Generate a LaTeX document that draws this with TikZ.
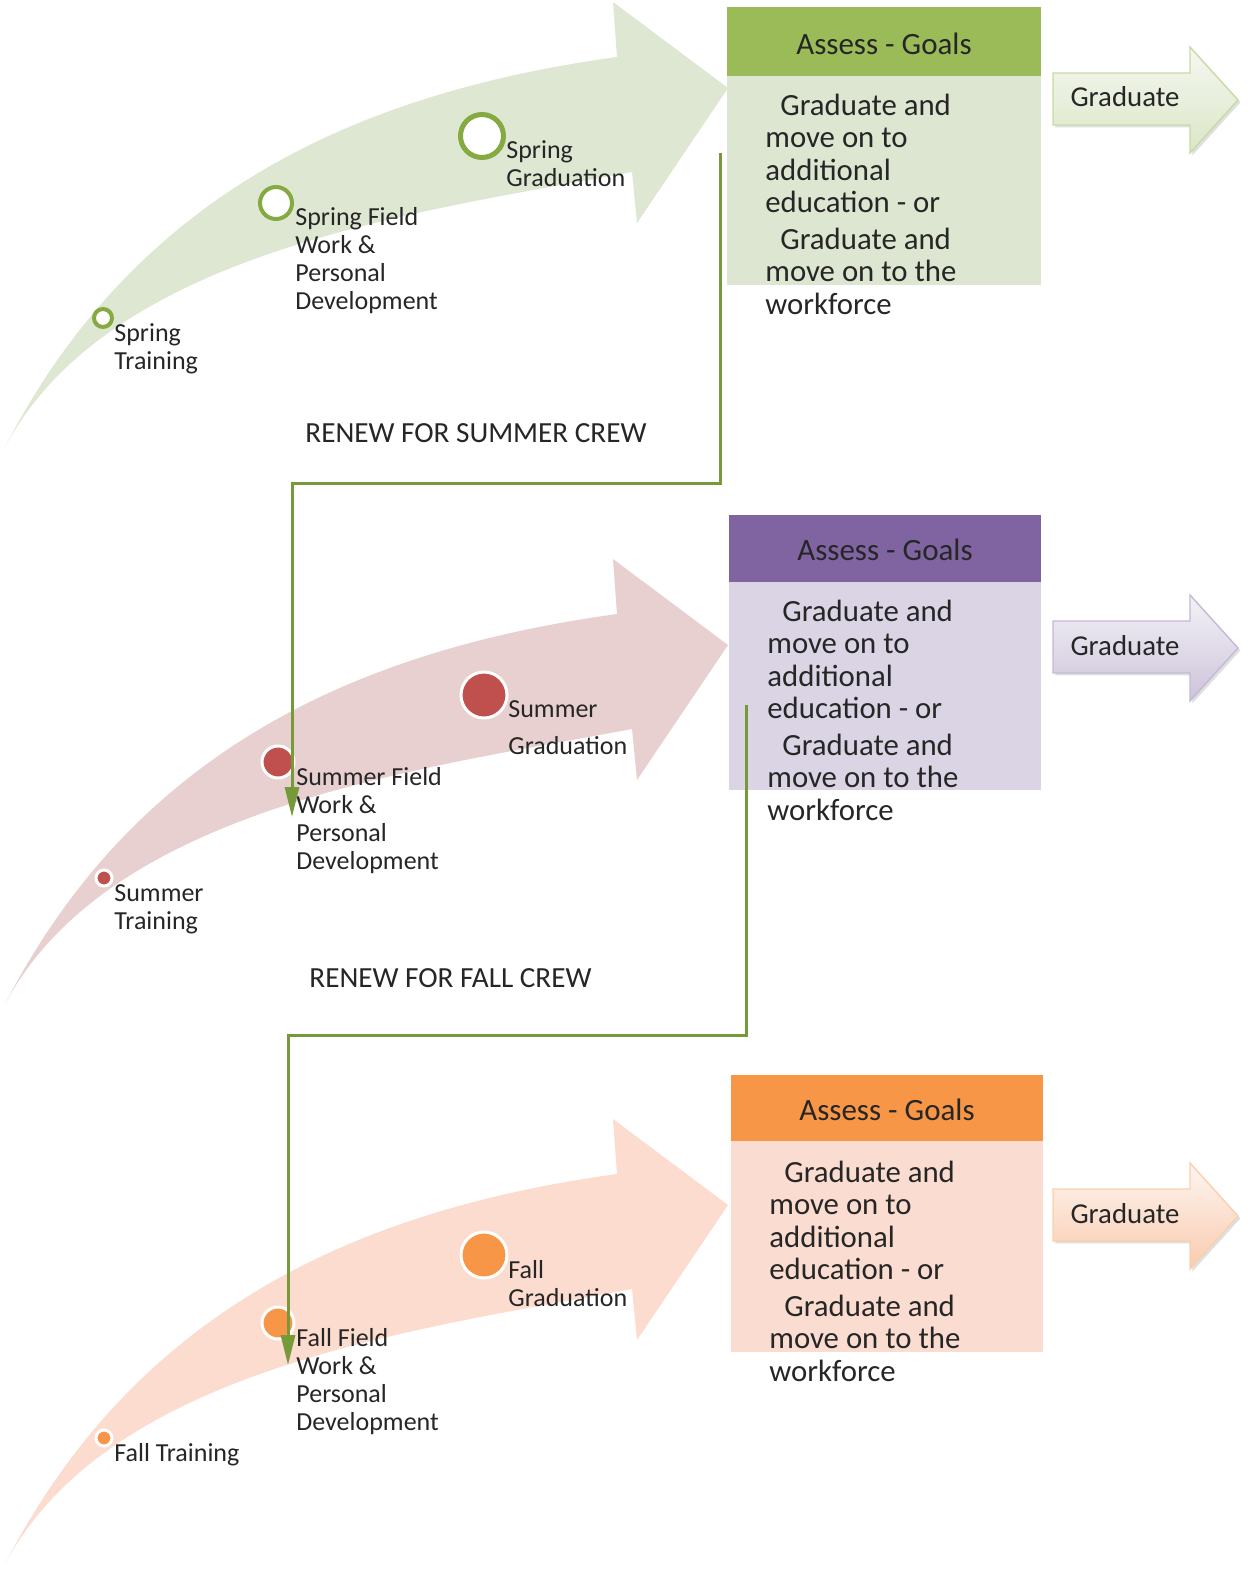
\documentclass[tikz,border=0pt]{standalone}
\usepackage{fontspec}
\setmainfont{Carlito}
\usetikzlibrary{arrows.meta,shadows}
\definecolor{gHead}{HTML}{9BBB59}
\definecolor{gBody}{HTML}{DDE6D0}
\definecolor{gBand}{HTML}{DEE7D2}
\definecolor{gRing}{HTML}{85AA42}
\definecolor{pHead}{HTML}{8064A2}
\definecolor{pBody}{HTML}{DAD4E4}
\definecolor{rBand}{HTML}{E8D0D1}
\definecolor{rDot}{HTML}{C0504D}
\definecolor{oHead}{HTML}{F79646}
\definecolor{oBody}{HTML}{FADDD0}
\definecolor{oBand}{HTML}{FBDCCF}
\definecolor{oDot}{HTML}{F79646}
\definecolor{connG}{HTML}{76993A}
\definecolor{txt}{HTML}{262626}
\newcommand\mlines[1]{\begin{tabular}[t]{@{}l@{}}#1\end{tabular}}
\newcommand\crewband[2]{%
  \fill[#2,shift={(0,#1)}] (5,447) .. controls (130,205) and (340,95) .. (617,57)
    -- (613,2) -- (728,88) -- (637,223) -- (632,172)
    .. controls (420,212) and (110,250) .. (5,447) -- cycle;}
\newcommand\gradshape[4]{%
  \path[gradstyle,shift={(0,#1)},top color=#2,bottom color=#3,draw=#4]
    (1053,73) -- (1190,73) -- (1190,47) -- (1238,100) -- (1190,153)
    -- (1190,125) -- (1053,125) -- cycle;}
\begin{document}
\begin{tikzpicture}[x=0.5pt,y=-0.5pt,
  lbl/.style={anchor=base west,inner sep=0pt,text=txt,font=\fontsize{13}{14}\selectfont},
  boxtxt/.style={anchor=base west,inner sep=0pt,text=txt,font=\fontsize{15.4}{16.25}\selectfont},
  hdrtxt/.style={inner sep=0pt,text=txt,font=\fontsize{15.5}{18}\selectfont},
  gradtxt/.style={inner sep=0pt,text=txt,font=\fontsize{14.4}{17}\selectfont},
  renew/.style={anchor=base west,inner sep=0pt,text=txt,font=\fontsize{14.6}{18}\selectfont},
  ring/.style={circle,draw=gRing,fill=white,inner sep=0pt},
  dot/.style={circle,draw=white,line width=1.5pt,inner sep=0pt},
  conn/.style={draw=connG,line width=1.5pt,-{Triangle[length=15pt,width=7pt]}},
  gradstyle/.style={line width=0.7pt,drop shadow={opacity=0.25,shadow xshift=1.2pt,shadow yshift=-1.2pt}}
]
\useasboundingbox (0,0) rectangle (1253,1585);
\fill[white] (0,0) rectangle (1253,1585);

% curved bands
\crewband{0}{gBand}
\crewband{557}{rBand}
\crewband{1117}{oBand}

% assess boxes
\fill[gHead] (727,7) rectangle (1041,76);
\fill[gBody] (727,76) rectangle (1041,285);
\fill[pHead] (729,515) rectangle (1041,582);
\fill[pBody] (729,582) rectangle (1041,790);
\fill[oHead] (731,1075) rectangle (1043,1141);
\fill[oBody] (731,1141) rectangle (1043,1352);

\node[hdrtxt] (h1) at (884,44) {Assess - Goals};
\node[hdrtxt] (h2) at (885,550) {Assess - Goals};
\node[hdrtxt] (h3) at (887,1110) {Assess - Goals};

\node[boxtxt] (b1) at (765,115) {\mlines{\hspace*{7.5pt}Graduate and\\ move on to\\ additional\\ education - or\\[2pt] \hspace*{7.5pt}Graduate and\\ move on to the\\ workforce}};
\node[boxtxt] (b2) at (767,621) {\mlines{\hspace*{7.5pt}Graduate and\\ move on to\\ additional\\ education - or\\[2pt] \hspace*{7.5pt}Graduate and\\ move on to the\\ workforce}};
\node[boxtxt] (b3) at (769,1182) {\mlines{\hspace*{7.5pt}Graduate and\\ move on to\\ additional\\ education - or\\[2pt] \hspace*{7.5pt}Graduate and\\ move on to the\\ workforce}};

% graduate arrows
\gradshape{0}{white!70!gBody}{gBand!60!gHead!60}{gHead!55}
\gradshape{548}{white!70!pBody}{pBody!85!pHead}{pHead!45}
\gradshape{1116}{white!70!oBody}{oBody!75!oHead}{oHead!45}
\node[gradtxt] (g1) at (1125,97) {Graduate};
\node[gradtxt] (g2) at (1125,646) {Graduate};
\node[gradtxt] (g3) at (1125,1214) {Graduate};

% milestones
\node[ring,line width=2pt,minimum size=9pt] (s1) at (103,318) {};
\node[ring,line width=2pt,minimum size=16pt] (s2) at (276,203) {};
\node[ring,line width=2.5pt,minimum size=21.5pt] (s3) at (482,136) {};
\node[dot,fill=rDot,minimum size=8pt] (m1) at (104,878) {};
\node[dot,fill=rDot,minimum size=16pt] (m2) at (278,762) {};
\node[dot,fill=rDot,minimum size=23pt] (m3) at (484,695) {};
\node[dot,fill=oDot,minimum size=8pt] (f1) at (104,1438) {};
\node[dot,fill=oDot,minimum size=16pt] (f2) at (278,1323) {};
\node[dot,fill=oDot,minimum size=23pt] (f3) at (484,1255) {};

% labels
\node[lbl] (ls1) at (114,341) {\mlines{Spring\\ Training}};
\node[lbl] (ls2) at (295,225) {\mlines{Spring Field\\ Work \&\\ Personal\\ Development}};
\node[lbl] (ls3) at (506,158) {\mlines{Spring\\ Graduation}};
\node[lbl] (lm1) at (114,901) {\mlines{Summer\\ Training}};
\node[lbl] (lm2) at (296,785) {\mlines{Summer Field\\ Work \&\\ Personal\\ Development}};
\node[lbl] (lm3) at (508,717) {\mlines{Summer\\[4.5pt] Graduation}};
\node[lbl] (lf1) at (114,1461) {Fall Training};
\node[lbl] (lf2) at (296,1346) {\mlines{Fall Field\\ Work \&\\ Personal\\ Development}};
\node[lbl] (lf3) at (508,1278) {\mlines{Fall\\ Graduation}};

\node[renew] (r1) at (305,442) {RENEW FOR SUMMER CREW};
\node[renew] (r2) at (309,987) {RENEW FOR FALL CREW};

% connectors
\coordinate (c1s) at (720,153);
\coordinate (c1b) at (292,483);
\coordinate (c1e) at (292,817);
\coordinate (c2s) at (746,705);
\coordinate (c2b) at (288,1035);
\coordinate (c2e) at (288,1365);
\draw[conn] (c1s) |- (c1b) -- (c1e);
\draw[conn] (c2s) |- (c2b) -- (c2e);
\end{tikzpicture}
\end{document}
